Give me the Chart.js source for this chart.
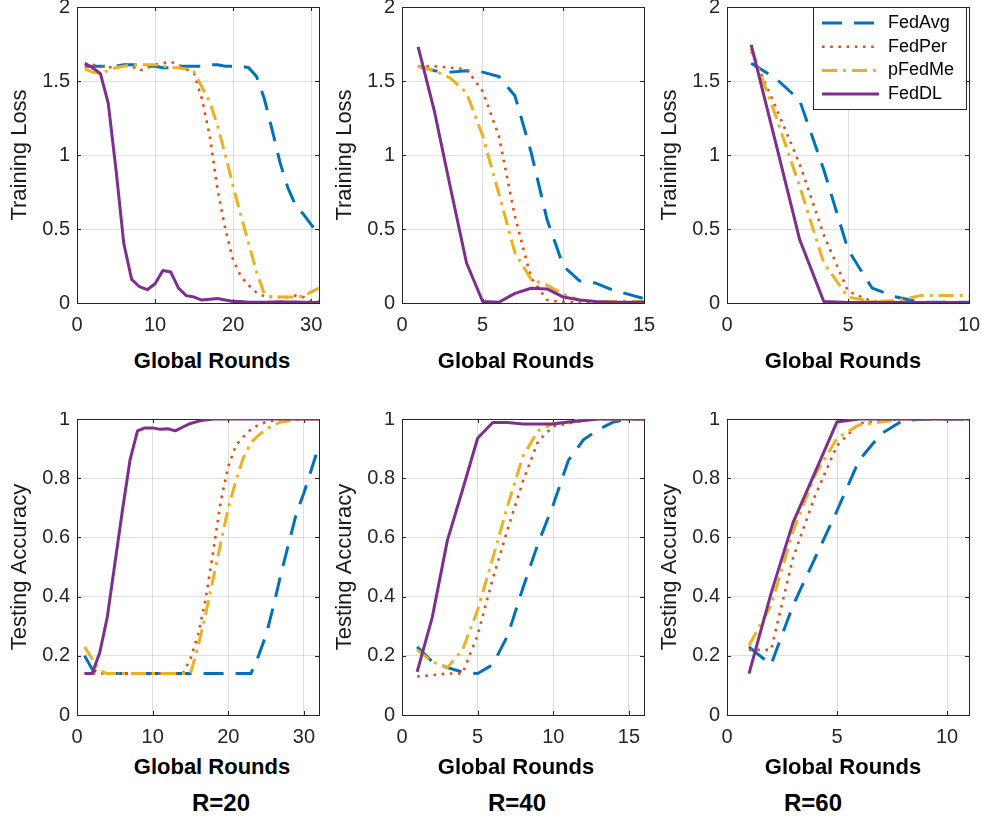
<!DOCTYPE html>
<html lang="en">
<head>
<meta charset="utf-8">
<title>Training loss and testing accuracy vs. global rounds</title>
<script src="https://cdn.jsdelivr.net/npm/chart.js@4.4.1/dist/chart.umd.min.js"></script>
<style>
  html, body { margin: 0; padding: 0; background: #fff; }
  #fig {
    position: relative; width: 981px; height: 820px; overflow: hidden; background: #fff;
    font-family: "Liberation Sans", Arial, Helvetica, sans-serif;
  }
  #fig canvas { position: absolute; width: 331px; height: 340px; }
  .xlab, .rlab {
    position: absolute; transform: translateX(-50%); white-space: nowrap;
    font-weight: bold; color: #000;
  }
  .xlab { font-size: 22px; line-height: 22px; }
  .rlab { font-size: 24px; line-height: 24px; }
</style>
</head>
<body>
<div id="fig">
  <canvas id="lossR20" width="331" height="340" style="left:0px;top:0px"></canvas>
  <canvas id="lossR40" width="331" height="340" style="left:325px;top:0px"></canvas>
  <canvas id="lossR60" width="331" height="340" style="left:650px;top:0px"></canvas>
  <canvas id="accR20" width="331" height="340" style="left:0px;top:412px"></canvas>
  <canvas id="accR40" width="331" height="340" style="left:325px;top:412px"></canvas>
  <canvas id="accR60" width="331" height="340" style="left:650px;top:412px"></canvas>

  <div class="xlab" style="left:212px;top:350px">Global Rounds</div>
  <div class="xlab" style="left:516px;top:350px">Global Rounds</div>
  <div class="xlab" style="left:843px;top:350px">Global Rounds</div>
  <div class="xlab" style="left:212px;top:756px">Global Rounds</div>
  <div class="xlab" style="left:516px;top:756px">Global Rounds</div>
  <div class="xlab" style="left:843px;top:756px">Global Rounds</div>
  <div class="rlab" style="left:221px;top:791px">R=20</div>
  <div class="rlab" style="left:517px;top:791px">R=40</div>
  <div class="rlab" style="left:813px;top:791px">R=60</div>
</div>

<script>
// ---- methods ----
const METHODS = ['FedAvg', 'FedPer', 'pFedMe', 'FedDL'];

// ---- global rounds per panel ----
const roundsLossR20 = [1,2,3,4,5,6,7,8,9,10,11,12,13,14,15,16,17,18,19,20,21,22,23,24,25,26,27,28,29,30,31];
const roundsLossR40 = [1,2,3,4,5,6,7,8,9,10,11,12,13,14,15];
const roundsLossR60 = [1,2,3,4,5,6,7,8,9,10];
const roundsAccR20  = [1,2,3,4,5,6,7,8,9,10,11,12,13,14,15,16,17,18,19,20,21,22,23,24,25,26,27,28,29,30,31,32];
const roundsAccR40  = [1,2,3,4,5,6,7,8,9,10,11,12,13,14,15,16];
const roundsAccR60  = [1,2,3,4,5,6,7,8,9,10,11];

// ---- training loss, R=20 ----
const fedAvgLossR20 = [1.60,1.60,1.60,1.60,1.60,1.61,1.61,1.61,1.60,1.60,1.59,1.59,1.60,1.60,1.60,1.60,1.61,1.61,1.60,1.60,1.60,1.59,1.53,1.38,1.17,0.95,0.78,0.66,0.60,0.53,0.46];
const fedPerLossR20 = [1.60,1.61,1.60,1.59,1.60,1.61,1.60,1.57,1.59,1.61,1.62,1.63,1.61,1.58,1.55,1.38,1.13,0.77,0.50,0.29,0.18,0.12,0.07,0.045,0.04,0.04,0.04,0.05,0.04,0.01,0.01];
const pFedMeLossR20 = [1.58,1.56,1.55,1.57,1.59,1.60,1.61,1.61,1.61,1.61,1.60,1.59,1.59,1.58,1.56,1.46,1.36,1.20,1.00,0.79,0.59,0.40,0.21,0.06,0.04,0.04,0.04,0.04,0.045,0.075,0.10];
const fedDLLossR20  = [1.62,1.59,1.55,1.35,0.90,0.40,0.16,0.11,0.09,0.13,0.22,0.21,0.10,0.05,0.04,0.02,0.025,0.03,0.02,0.01,0.01,0.005,0.005,0.005,0.007,0.008,0.007,0.006,0.005,0.004,0.004];

// ---- training loss, R=40 ----
const fedAvgLossR40 = [1.60,1.57,1.56,1.57,1.56,1.53,1.40,1.02,0.56,0.25,0.15,0.135,0.09,0.06,0.03];
const fedPerLossR40 = [1.60,1.60,1.59,1.58,1.43,1.13,0.585,0.17,0.02,0.005,0.005,0.005,0.005,0.005,0.005];
const pFedMeLossR40 = [1.60,1.57,1.52,1.42,1.13,0.74,0.34,0.16,0.12,0.06,0.02,0.01,0.01,0.01,0.01];
const fedDLLossR40  = [1.73,1.30,0.78,0.27,0.01,0.005,0.065,0.10,0.095,0.04,0.02,0.01,0.005,0.005,0.005];

// ---- training loss, R=60 ----
const fedAvgLossR60 = [1.62,1.52,1.37,0.90,0.36,0.10,0.04,0.005,0.005,0.005];
const fedPerLossR60 = [1.70,1.33,0.94,0.46,0.08,0.01,0.005,0.005,0.005,0.005];
const pFedMeLossR60 = [1.72,1.27,0.79,0.27,0.04,0.01,0.015,0.05,0.05,0.05];
const fedDLLossR60  = [1.745,1.09,0.43,0.01,0.003,0.003,0.003,0.003,0.003,0.003];

// ---- testing accuracy, R=20 ----
const fedAvgAccR20 = [0.20,0.155,0.14,0.14,0.14,0.14,0.14,0.14,0.14,0.14,0.14,0.14,0.14,0.14,0.14,0.14,0.14,0.14,0.14,0.14,0.14,0.14,0.14,0.20,0.27,0.37,0.48,0.58,0.68,0.75,0.83,0.91];
const fedPerAccR20 = [0.14,0.14,0.14,0.14,0.14,0.14,0.14,0.14,0.14,0.14,0.14,0.14,0.14,0.14,0.19,0.27,0.39,0.55,0.72,0.84,0.91,0.94,0.965,0.98,0.99,0.995,1.0,1.0,1.0,1.0,1.0,1.0];
const pFedMeAccR20 = [0.23,0.19,0.15,0.14,0.14,0.14,0.14,0.14,0.14,0.14,0.14,0.14,0.14,0.14,0.14,0.23,0.34,0.46,0.58,0.70,0.79,0.87,0.92,0.945,0.965,0.98,0.99,0.993,0.997,1.0,1.0,1.0];
const fedDLAccR20  = [0.14,0.14,0.21,0.33,0.51,0.69,0.86,0.96,0.97,0.97,0.965,0.967,0.96,0.973,0.985,0.992,0.997,1.0,1.0,1.0,1.0,1.0,1.0,1.0,1.0,1.0,1.0,1.0,1.0,1.0,1.0,1.0];

// ---- testing accuracy, R=40 ----
const fedAvgAccR40 = [0.23,0.18,0.16,0.145,0.14,0.17,0.27,0.43,0.58,0.71,0.86,0.93,0.965,0.99,1.0,1.0];
const fedPerAccR40 = [0.13,0.135,0.14,0.14,0.27,0.46,0.63,0.79,0.925,0.975,0.985,0.995,1.0,1.0,1.0,1.0];
const pFedMeAccR40 = [0.22,0.18,0.16,0.22,0.355,0.53,0.71,0.875,0.96,0.985,0.99,1.0,1.0,1.0,1.0,1.0];
const fedDLAccR40  = [0.146,0.33,0.59,0.76,0.935,0.988,0.988,0.983,0.983,0.983,0.99,0.995,1.0,1.0,1.0,1.0];

// ---- testing accuracy, R=60 ----
const fedAvgAccR60 = [0.23,0.17,0.37,0.53,0.69,0.86,0.95,0.995,1.0,1.0,1.0];
const fedPerAccR60 = [0.22,0.22,0.53,0.74,0.91,0.985,0.995,1.0,1.0,1.0,1.0];
const pFedMeAccR60 = [0.235,0.37,0.62,0.81,0.935,0.98,0.99,1.0,1.0,1.0,1.0];
const fedDLAccR60  = [0.14,0.41,0.65,0.82,0.99,1.0,1.0,1.0,1.0,1.0,1.0];

// ---- tick values ----
const xTicksLossR20 = [0, 10, 20, 30];
const xTicksLossR40 = [0, 5, 10, 15];
const xTicksLossR60 = [0, 5, 10];
const xTicksAccR20  = [0, 10, 20, 30];
const xTicksAccR40  = [0, 5, 10, 15];
const xTicksAccR60  = [0, 5, 10];
const lossTicks = [0, 0.5, 1, 1.5, 2];
const accTicks  = [0, 0.2, 0.4, 0.6, 0.8, 1];

// ---- appearance ----
const FONT = '"Liberation Sans", Arial, Helvetica, sans-serif';
const INK = '#262626';
const GRID = 'rgba(38,38,38,0.15)';
const TICK_LEN = 4;
const LINE_STYLES = [
  { borderColor: '#0072BD', borderDash: [20, 12], borderWidth: 3, order: 4 },
  { borderColor: '#D95319', borderDash: [2.6, 5.6], borderWidth: 2.6, order: 3 },
  { borderColor: '#EDB120', borderDash: [15, 6, 3, 6], borderWidth: 3, order: 2 },
  { borderColor: '#7E2F8E', borderDash: [], borderWidth: 3, order: 1 }
];

Chart.defaults.font.family = FONT;
Chart.defaults.color = INK;
Chart.defaults.animation = false;

// legend frame geometry inside the plot area (top-right corner)
function legendRect(a) {
  const w = 153, h = 102;
  return { left: a.right - 156, top: a.top, w, h };
}

// axes box, inward tick marks on all four sides, and the framed legend
const plotFrame = {
  id: 'plotFrame',
  afterLayout(chart, args, opts) {
    if (!opts.legendBox || !chart.legend) return;
    const lg = chart.legend;
    const b = legendRect(chart.chartArea);
    lg.left = b.left + 3.3;
    lg.top = b.top + 1.3;
    lg.right = b.left + b.w;
    lg.bottom = b.top + b.h + 10;
    lg.width = lg.right - lg.left;
    lg.height = lg.bottom - lg.top;
  },
  beforeDatasetsDraw(chart) {
    const { ctx, chartArea: a } = chart;
    const xs = chart.scales.x, ys = chart.scales.y;
    ctx.save();
    ctx.strokeStyle = INK;
    ctx.lineWidth = 1;
    ctx.beginPath();
    xs.ticks.forEach(t => {
      const p = Math.round(xs.getPixelForValue(t.value)) + 0.5;
      ctx.moveTo(p, a.bottom); ctx.lineTo(p, a.bottom - TICK_LEN);
      ctx.moveTo(p, a.top); ctx.lineTo(p, a.top + TICK_LEN);
    });
    ys.ticks.forEach(t => {
      const p = Math.round(ys.getPixelForValue(t.value)) + 0.5;
      ctx.moveTo(a.left, p); ctx.lineTo(a.left + TICK_LEN, p);
      ctx.moveTo(a.right, p); ctx.lineTo(a.right - TICK_LEN, p);
    });
    ctx.stroke();
    ctx.strokeRect(a.left + 0.5, a.top + 0.5, a.right - a.left, a.bottom - a.top);
    ctx.restore();
  },
  afterDraw(chart, args, opts) {
    if (!opts.legendBox || !chart.legend) return;
    const { ctx } = chart;
    const b = legendRect(chart.chartArea);
    ctx.save();
    ctx.fillStyle = '#fff';
    ctx.fillRect(b.left, b.top, b.w, b.h);
    ctx.strokeStyle = INK;
    ctx.lineWidth = 1;
    ctx.strokeRect(b.left + 0.5, b.top + 0.5, b.w, b.h);
    ctx.restore();
    chart.legend.draw();
  }
};

function fixedTicks(values) {
  return scale => { scale.ticks = values.map(v => ({ value: v })); };
}

// legend samples carry each dataset's own dash pattern and width
function lineLegendLabels(chart) {
  const items = Chart.defaults.plugins.legend.labels.generateLabels(chart);
  return items.map(item => {
    const ds = chart.data.datasets[item.datasetIndex];
    return Object.assign(item, {
      lineDash: ds.borderDash,
      lineWidth: ds.borderWidth,
      lineCap: 'butt',
      strokeStyle: ds.borderColor,
      fillStyle: ds.borderColor
    });
  }).sort((a, b) => a.datasetIndex - b.datasetIndex);
}

function makePanel(p) {
  const datasets = METHODS.map((name, i) => ({
    label: name,
    data: p.rounds.map((r, k) => ({ x: r, y: p.series[i][k] })),
    borderCapStyle: 'butt',
    borderJoinStyle: 'round',
    pointRadius: 0,
    tension: 0,
    fill: false,
    ...LINE_STYLES[i]
  }));

  return new Chart(document.getElementById(p.id), {
    type: 'line',
    data: { datasets },
    plugins: [plotFrame],
    options: {
      responsive: false,
      animation: false,
      events: [],
      layout: { padding: { left: 0, top: 7, right: 12, bottom: 0 } },
      scales: {
        x: {
          type: 'linear',
          min: 0,
          max: p.xMax,
          afterBuildTicks: fixedTicks(p.xTicks),
          afterFit: s => { s.height = 37; s.paddingLeft = 0; s.paddingRight = 0; s.paddingTop = 0; s.paddingBottom = 0; },
          grid: { color: GRID, lineWidth: 1, drawTicks: false },
          border: { display: false },
          ticks: { font: { size: 20 }, color: INK, padding: 10.5, maxRotation: 0, autoSkip: false,
                   callback: v => String(v) }
        },
        y: {
          type: 'linear',
          min: 0,
          max: p.yMax,
          afterBuildTicks: fixedTicks(p.yTicks),
          afterFit: s => { s.width = 77; s.paddingLeft = 0; s.paddingRight = 0; s.paddingTop = 0; s.paddingBottom = 0; },
          grid: { color: GRID, lineWidth: 1, drawTicks: false },
          border: { display: false },
          ticks: { font: { size: 20 }, color: INK, padding: 7, callback: v => String(v) },
          title: {
            display: true,
            text: p.yTitle,
            color: '#1a1a1a',
            font: { size: 22 },
            padding: { top: 7, bottom: 0 }
          }
        }
      },
      plugins: {
        plotFrame: { legendBox: !!p.legend },
        tooltip: { enabled: false },
        legend: p.legend ? {
          display: true,
          position: 'chartArea',
          align: 'start',
          labels: {
            usePointStyle: true,
            pointStyle: 'line',
            pointStyleWidth: 57,
            padding: 5.7,
            color: '#000',
            font: { size: 18 },
            generateLabels: lineLegendLabels
          }
        } : { display: false }
      }
    }
  });
}

const PANELS = [
  { id: 'lossR20', rounds: roundsLossR20, series: [fedAvgLossR20, fedPerLossR20, pFedMeLossR20, fedDLLossR20],
    xMax: 31, xTicks: xTicksLossR20, yMax: 2, yTicks: lossTicks, yTitle: 'Training Loss' },
  { id: 'lossR40', rounds: roundsLossR40, series: [fedAvgLossR40, fedPerLossR40, pFedMeLossR40, fedDLLossR40],
    xMax: 15, xTicks: xTicksLossR40, yMax: 2, yTicks: lossTicks, yTitle: 'Training Loss' },
  { id: 'lossR60', rounds: roundsLossR60, series: [fedAvgLossR60, fedPerLossR60, pFedMeLossR60, fedDLLossR60],
    xMax: 10, xTicks: xTicksLossR60, yMax: 2, yTicks: lossTicks, yTitle: 'Training Loss', legend: true },
  { id: 'accR20', rounds: roundsAccR20, series: [fedAvgAccR20, fedPerAccR20, pFedMeAccR20, fedDLAccR20],
    xMax: 32, xTicks: xTicksAccR20, yMax: 1, yTicks: accTicks, yTitle: 'Testing Accuracy' },
  { id: 'accR40', rounds: roundsAccR40, series: [fedAvgAccR40, fedPerAccR40, pFedMeAccR40, fedDLAccR40],
    xMax: 16, xTicks: xTicksAccR40, yMax: 1, yTicks: accTicks, yTitle: 'Testing Accuracy' },
  { id: 'accR60', rounds: roundsAccR60, series: [fedAvgAccR60, fedPerAccR60, pFedMeAccR60, fedDLAccR60],
    xMax: 11, xTicks: xTicksAccR60, yMax: 1, yTicks: accTicks, yTitle: 'Testing Accuracy' }
];

PANELS.forEach(makePanel);
</script>
</body>
</html>
